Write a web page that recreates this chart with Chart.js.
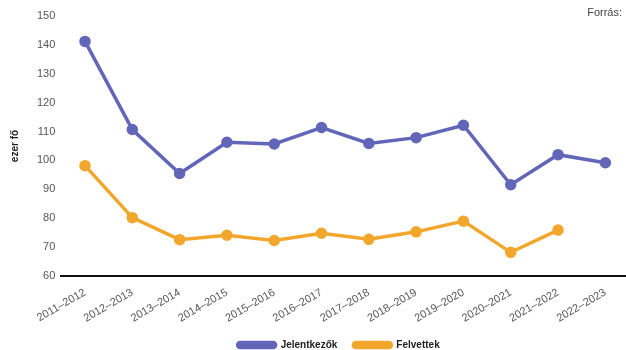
<!DOCTYPE html>
<html>
<head>
<meta charset="utf-8">
<script src="https://cdn.jsdelivr.net/npm/chart.js@4"></script>
<style>
  html, body { margin: 0; padding: 0; background: #fff; }
  #wrap { width: 626px; height: 350px; }
</style>
</head>
<body>
<div id="wrap"><canvas id="applicants-plot"></canvas></div>
<script>
// school years on the x axis
const yearLabels = ["2011–2012", "2012–2013", "2013–2014", "2014–2015", "2015–2016", "2016–2017",
                    "2017–2018", "2018–2019", "2019–2020", "2020–2021", "2021–2022", "2022–2023"];
// thousand persons
const applicantsData = [141.2, 110.7, 95.5, 106.3, 105.7, 111.4, 105.9, 107.9, 112.2, 91.6, 102.0, 99.2];
const admittedData = [98.2, 80.2, 72.6, 74.1, 72.3, 74.8, 72.7, 75.3, 79.0, 68.2, 75.9, null];

const blueColor = "#6266b8";
const orangeColor = "#f2a72c";
const fontFamily = "'Liberation Sans', Arial, sans-serif";

// the plot runs a little past the right edge in the original, and the legend is centred under the plot area
const layoutTweaks = {
    id: "layoutTweaks",
    afterLayout(chart) {
        const area = chart.chartArea;
        const x = chart.scales.x;
        area.right = 629;
        area.width = area.right - area.left;
        x.right = 629;
        x.width = x.right - x.left;
        x.configure();

        const legend = chart.legend;
        if (legend) {
            const shift = (area.left + 616) / 2 - (legend.left + legend.right) / 2;
            legend.left += shift;
            legend.right += shift;
            if (legend.adjustHitBoxes) legend.adjustHitBoxes();
        }
    }
};

// draws the dot on top of each legend line and the "Forrás:" note
const extrasPlugin = {
    id: "extras",
    afterDraw(chart) {
        const ctx = chart.ctx;
        ctx.save();
        const legend = chart.legend;
        if (legend && legend.legendHitBoxes) {
            legend.legendHitBoxes.forEach((box, i) => {
                const ds = chart.data.datasets[i];
                ctx.fillStyle = ds.borderColor;
                ctx.beginPath();
                ctx.arc(box.left + 19, box.top + box.height / 2, 3.5, 0, Math.PI * 2);
                ctx.fill();
            });
        }
        ctx.fillStyle = "#444";
        ctx.font = "11px " + fontFamily;
        ctx.textAlign = "right";
        ctx.textBaseline = "middle";
        ctx.fillText("Forrás:", 622, 13);
        ctx.restore();
    }
};

new Chart(document.getElementById("applicants-plot"), {
    type: "line",
    data: {
        labels: yearLabels,
        datasets: [
            {
                label: "Jelentkezők",
                data: applicantsData,
                borderColor: blueColor,
                backgroundColor: blueColor,
                borderWidth: 3.5,
                pointRadius: 4,
                pointHoverRadius: 4,
                tension: 0
            },
            {
                label: "Felvettek",
                data: admittedData,
                borderColor: orangeColor,
                backgroundColor: orangeColor,
                borderWidth: 3.5,
                pointRadius: 4,
                pointHoverRadius: 4,
                tension: 0,
                spanGaps: false
            }
        ]
    },
    options: {
        responsive: true,
        maintainAspectRatio: false,
        animation: false,
        layout: { autoPadding: false, padding: { top: 16, right: 0, left: 9, bottom: -10 } },
        plugins: {
            legend: {
                position: "bottom",
                labels: {
                    boxWidth: 38,
                    boxHeight: 5,
                    useBorderRadius: true,
                    borderRadius: 2.5,
                    padding: 16,
                    color: "#222",
                    font: { family: fontFamily, size: 10, weight: "bold" }
                }
            },
            tooltip: { enabled: false }
        },
        scales: {
            x: {
                offset: true,
                grid: { display: false, drawTicks: false },
                border: { display: true, color: "#111", width: 2 },
                ticks: {
                    color: "#555",
                    font: { family: fontFamily, size: 11 },
                    minRotation: 30,
                    maxRotation: 30,
                    padding: 10
                },
                afterFit(scale) {
                    scale.paddingRight = 0;
                    scale.height -= 11;
                }
            },
            y: {
                min: 60,
                max: 150,
                grid: { display: false, drawTicks: false },
                border: { display: false },
                ticks: {
                    stepSize: 10,
                    color: "#555",
                    font: { family: fontFamily, size: 11 },
                    padding: 6
                },
                title: {
                    display: true,
                    text: "ezer fő",
                    color: "#222",
                    font: { family: fontFamily, size: 10, weight: "bold" },
                    padding: { top: 0, bottom: 10 }
                }
            }
        }
    },
    plugins: [layoutTweaks, extrasPlugin]
});
</script>
</body>
</html>
